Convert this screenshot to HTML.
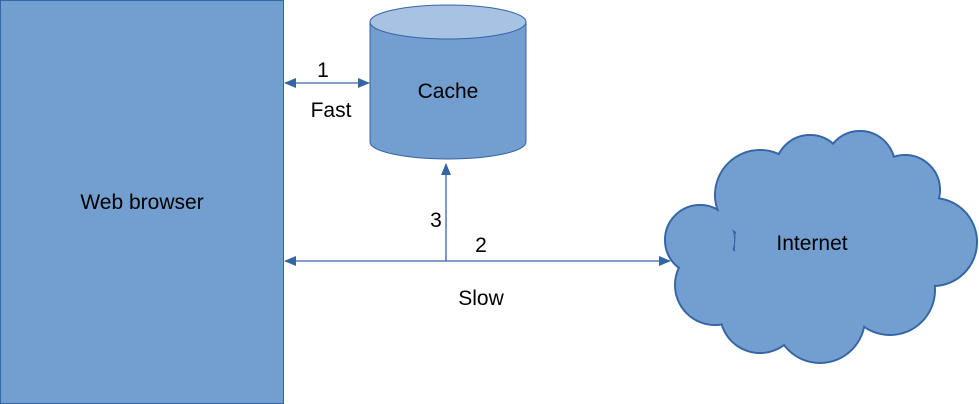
<!DOCTYPE html>
<html><head><meta charset="utf-8"><style>
body{margin:0;background:#fff;}
svg{display:block;font-family:"Liberation Sans",sans-serif;}
</style></head><body>
<svg width="979" height="404" viewBox="0 0 979 404" xmlns="http://www.w3.org/2000/svg">
<defs>
<marker id="a" markerWidth="12" markerHeight="10" refX="11" refY="5" orient="auto-start-reverse" markerUnits="userSpaceOnUse">
<path d="M0,0 L12,5 L0,10 Z" fill="#3465a4"/></marker>
</defs>
<rect x="0.5" y="0.5" width="283" height="403" fill="#729fcf" stroke="#3465a4"/>
<text x="142" y="209" font-size="21" text-anchor="middle" fill="#000">Web browser</text>
<!-- cylinder -->
<path d="M370,22 L370,142 A78,17 0 0 0 526,142 L526,22 Z" fill="#729fcf" stroke="#3465a4"/>
<ellipse cx="448" cy="22" rx="78" ry="17" fill="#a7c2e3" stroke="#3465a4"/>
<text x="448" y="98" font-size="21" text-anchor="middle">Cache</text>
<!-- arrows -->
<line x1="285" y1="83" x2="369" y2="83" stroke="#3465a4" stroke-width="1.3" marker-start="url(#a)" marker-end="url(#a)"/>
<text x="323" y="77" font-size="21" text-anchor="middle">1</text>
<text x="331" y="117" font-size="21" text-anchor="middle">Fast</text>
<line x1="285" y1="261" x2="670" y2="261" stroke="#3465a4" stroke-width="1.3" marker-start="url(#a)" marker-end="url(#a)"/>
<line x1="446" y1="261" x2="446" y2="164" stroke="#3465a4" stroke-width="1.3" marker-end="url(#a)"/>
<text x="436" y="227" font-size="21" text-anchor="middle">3</text>
<text x="481" y="252" font-size="21" text-anchor="middle">2</text>
<text x="481" y="305" font-size="21" text-anchor="middle">Slow</text>
<!-- cloud -->
<g stroke="#3465a4" stroke-width="2" fill="#729fcf">
<circle cx="700" cy="240" r="35"/><circle cx="715" cy="285" r="40"/>
<circle cx="760" cy="195" r="45"/><circle cx="810" cy="170" r="35"/>
<circle cx="860" cy="166" r="35"/><circle cx="905" cy="190" r="35"/>
<circle cx="933" cy="242" r="44"/><circle cx="890" cy="290" r="45"/>
<circle cx="820" cy="318" r="45"/><circle cx="760" cy="313" r="40"/>
</g>
<g fill="#729fcf">
<circle cx="700" cy="240" r="34"/><circle cx="715" cy="285" r="39"/>
<circle cx="760" cy="195" r="44"/><circle cx="810" cy="170" r="34"/>
<circle cx="860" cy="166" r="34"/><circle cx="905" cy="190" r="34"/>
<circle cx="933" cy="242" r="43"/><circle cx="890" cy="290" r="44"/>
<circle cx="820" cy="318" r="44"/><circle cx="760" cy="313" r="39"/>
<circle cx="820" cy="245" r="85"/>
</g>
<text x="812" y="250" font-size="21" text-anchor="middle">Internet</text>
</svg>
</body></html>
